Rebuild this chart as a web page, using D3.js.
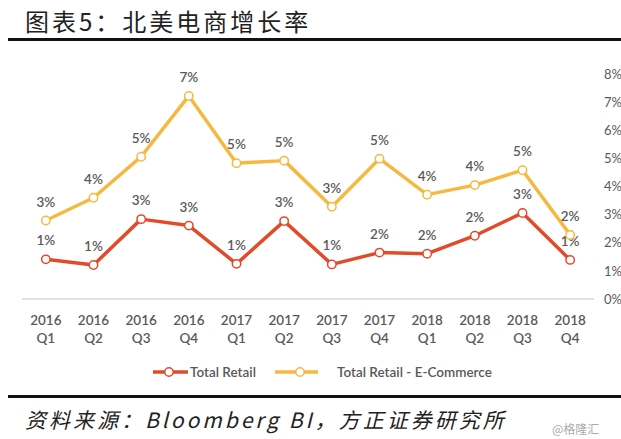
<!DOCTYPE html>
<html><head><meta charset="utf-8">
<script src="https://cdn.jsdelivr.net/npm/d3@7"></script>
<style>body{margin:0;background:#fff;}svg{display:block;}</style>
</head><body>
<script>
const years = ["2016","2016","2016","2016","2017","2017","2017","2017","2018","2018","2018","2018"];
const quarters = ["Q1","Q2","Q3","Q4","Q1","Q2","Q3","Q4","Q1","Q2","Q3","Q4"];
const totalRetail = [0.0141,0.0121,0.0284,0.0261,0.0125,0.0277,0.0123,0.0165,0.0161,0.0225,0.0306,0.0139];
const eCommerce = [0.0279,0.0360,0.0506,0.0722,0.0483,0.0492,0.0328,0.0499,0.0371,0.0405,0.0458,0.0228];
const yTicks = [0,0.01,0.02,0.03,0.04,0.05,0.06,0.07,0.08];
const seriesNames = ["Total Retail","Total Retail - E-Commerce"];
const colors = ["#E14B2A","#F5B942"];

const W=621,H=439;
const svg=d3.select("body").append("svg").attr("width",W).attr("height",H);
const lab="Lato, 'Noto Sans', sans-serif";
const cjk="'Noto Sans CJK SC', sans-serif";

// title
svg.append("text").attr("x",25).attr("y",31).attr("font-family",cjk).attr("font-size",24)
  .attr("letter-spacing",3).attr("fill","#222").text("图表5：北美电商增长率");
svg.append("rect").attr("x",8).attr("y",38).attr("width",W-8).attr("height",3).attr("fill","#111");

const idx=d3.range(years.length);
const x=d3.scaleBand().domain(idx).range([22,594]).padding(0);
const y=d3.scaleLinear().domain([0,0.08]).range([299,74]);
const cx=i=>x(i)+x.bandwidth()/2;

// baseline
svg.append("line").attr("x1",22).attr("x2",594).attr("y1",y(0)).attr("y2",y(0))
  .attr("stroke","#d9d9d9").attr("stroke-width",1.5);

// right axis
const ax=svg.append("g").attr("transform","translate(600,0)")
  .call(d3.axisRight(y).tickValues(yTicks).tickSize(0).tickPadding(4).tickFormat(d3.format(".0%")));
ax.select(".domain").remove();
ax.selectAll("text").attr("font-family",lab).attr("font-size",13).attr("fill","#595959");

// x labels
const xl=svg.append("g");
idx.forEach(i=>{
  xl.append("text").attr("x",cx(i)).attr("y",325).attr("text-anchor","middle")
    .attr("font-family",lab).attr("font-size",13.5).attr("font-weight",600).attr("fill","#595959").text(years[i]);
  xl.append("text").attr("x",cx(i)).attr("y",343).attr("text-anchor","middle")
    .attr("font-family",lab).attr("font-size",13.5).attr("font-weight",600).attr("fill","#595959").text(quarters[i]);
});

const line=d3.line().x((d,i)=>cx(i)).y(d=>y(d));
const fmt=d3.format(".0%");
[totalRetail,eCommerce].forEach((s,k)=>{
  svg.append("path").datum(s).attr("d",line).attr("fill","none")
    .attr("stroke",colors[k]).attr("stroke-width",3.5).attr("stroke-linejoin","round");
});
[totalRetail,eCommerce].forEach((s,k)=>{
  svg.append("g").selectAll("circle").data(s).join("circle")
    .attr("cx",(d,i)=>cx(i)).attr("cy",d=>y(d)).attr("r",4.2)
    .attr("fill","#fff").attr("stroke",colors[k]).attr("stroke-width",1.5);
  svg.append("g").selectAll("text").data(s).join("text")
    .attr("x",(d,i)=>cx(i)).attr("y",d=>y(d)-14).attr("text-anchor","middle")
    .attr("font-family",lab).attr("font-size",13.5).attr("font-weight",600).attr("fill","#595959")
    .text(d=>fmt(d));
});

// legend
const leg=[{x1:153,x2:188,c:169,t:190},{x1:275,x2:318,c:300,t:337}];
leg.forEach((L,k)=>{
  svg.append("line").attr("x1",L.x1).attr("x2",L.x2).attr("y1",372).attr("y2",372)
    .attr("stroke",colors[k]).attr("stroke-width",3.5);
  svg.append("circle").attr("cx",L.c).attr("cy",372).attr("r",4.2).attr("fill","#fff")
    .attr("stroke",colors[k]).attr("stroke-width",1.5);
  svg.append("text").attr("x",L.t).attr("y",377).attr("font-family",lab).attr("font-size",13.5)
    .attr("font-weight",600).attr("fill","#595959").text(seriesNames[k]);
});

// bottom rule & source
svg.append("rect").attr("x",8).attr("y",395).attr("width",W-8).attr("height",3).attr("fill","#111");
svg.append("text").attr("x",25).attr("y",428).attr("font-family",cjk).attr("font-size",21)
  .attr("font-style","italic").attr("letter-spacing",3).attr("fill","#222")
  .text("资料来源：Bloomberg BI，方正证券研究所");
svg.append("text").attr("x",552).attr("y",434).attr("font-family",cjk).attr("font-size",12)
  .attr("fill","#aaa").text("@格隆汇");
</script>
</body></html>
